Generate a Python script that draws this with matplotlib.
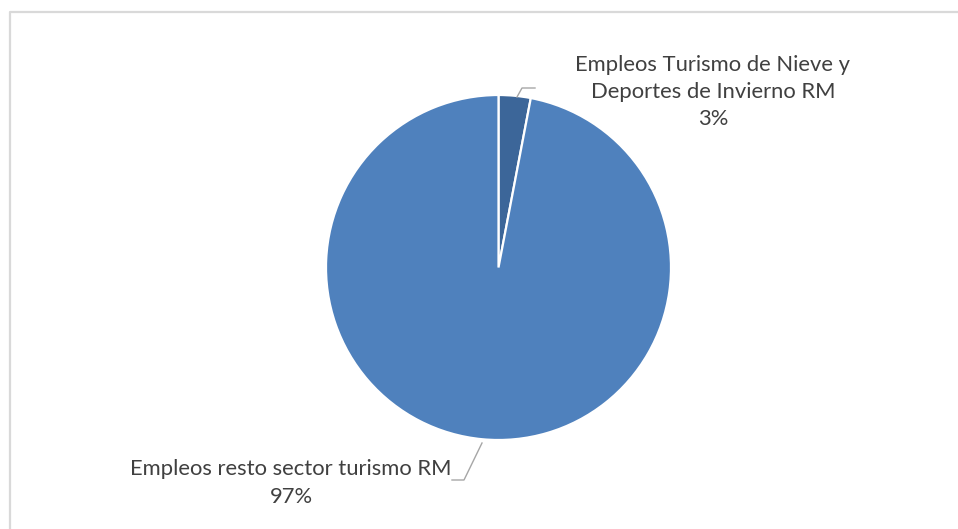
import matplotlib
matplotlib.use("Agg")
import matplotlib.pyplot as plt

# Employment share in the RM tourism sector
labels = ["Empleos Turismo de Nieve y\nDeportes de Invierno RM", "Empleos resto sector turismo RM"]
shares = [3, 97]
colors = ["#3C6699", "#4F81BD"]

W, H = 958, 529

fig = plt.figure(figsize=(W / 100, H / 100), dpi=100)
ax = fig.add_axes([0, 0, 1, 1])

cx, cy, r = 498.5, H - 267.5, 172.5
ax.pie(shares, colors=colors, startangle=90, counterclock=False,
       center=(cx, cy), radius=r, frame=True,
       wedgeprops=dict(edgecolor="white", linewidth=1.6))
ax.set_xlim(0, W)
ax.set_ylim(0, H)
ax.set_aspect("equal")
ax.axis("off")

# light frame around the chart area
ax.plot([10, 10, W], [0, H - 12, H - 12], color="#D9D9D9", lw=1.6, solid_capstyle="butt")

font = dict(family="Lato", fontsize=15.8, color="#404040", ha="center", va="center",
            linespacing=1.45)

# label for the small slice
ax.text(713, H - 92, f"{labels[0]}\n{shares[0]}%", **font)
ax.plot([517, 522, 535], [H - 97, H - 88, H - 88], color="#A6A6A6", lw=1)

# label for the large slice
ax.text(291, H - 483, f"{labels[1]}\n{shares[1]}%", **font)
ax.plot([482, 464, 452], [H - 443, H - 480, H - 480], color="#A6A6A6", lw=1)

fig.savefig("out.png", dpi=100)
